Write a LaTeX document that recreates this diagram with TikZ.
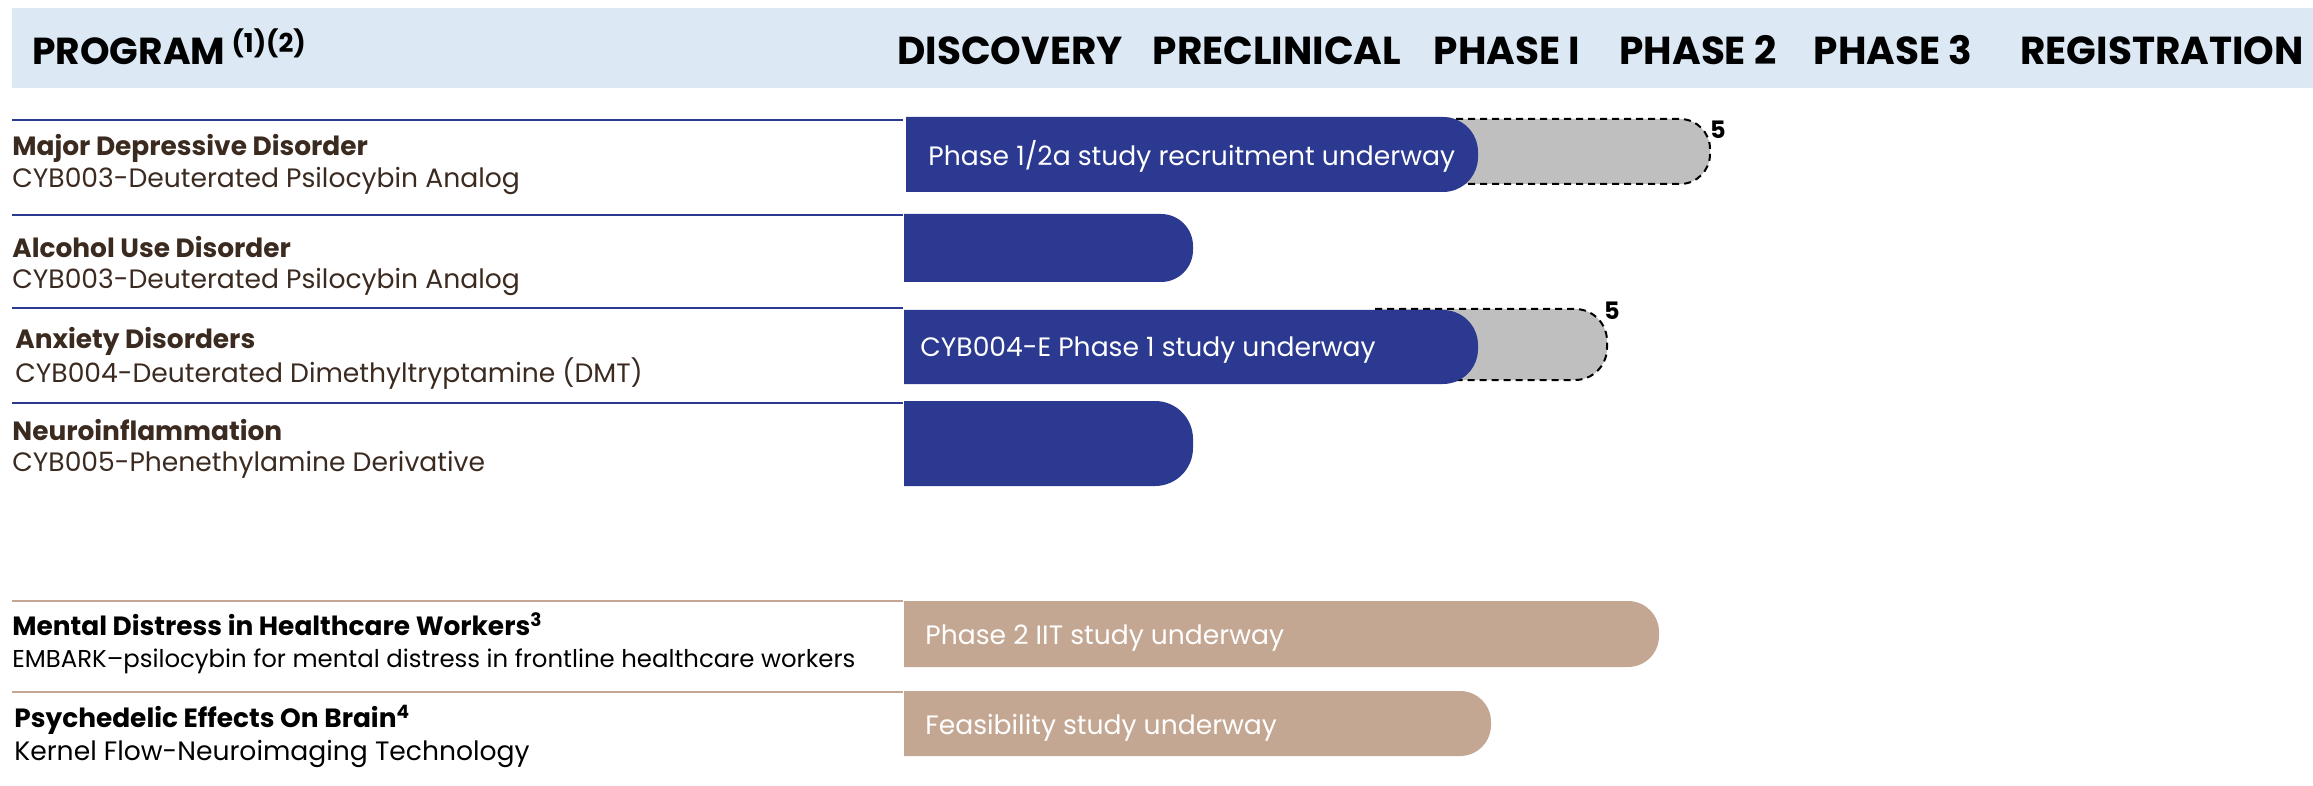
\documentclass[tikz,border=0pt]{standalone}
\usepackage{fontspec}
\setmainfont{Poppins}
\usepackage{xcolor}
\usetikzlibrary{positioning}
\definecolor{bandblue}{HTML}{DCE9F4}
\definecolor{barblue}{HTML}{2B3990}
\definecolor{bargray}{HTML}{BFBFBF}
\definecolor{bartan}{HTML}{C4A792}
\definecolor{titlebrown}{HTML}{3B2A20}

\begin{document}
\begin{tikzpicture}[x=0.5pt, y=-0.5pt,
    colhead/.style={font=\fontsize{19.5}{20}\selectfont\bfseries, anchor=base, inner sep=0pt},
    ptitle/.style={font=\fontsize{13.2}{15}\selectfont\bfseries, anchor=base west, inner sep=0pt},
    psub/.style={font=\fontsize{13.3}{15}\selectfont, anchor=base west, inner sep=0pt},
    bartext/.style={font=\fontsize{13.3}{15}\selectfont, text=white, anchor=base west, inner sep=0pt},
    stub/.style={fill=bargray, draw=black, line width=1pt, dash pattern=on 3.5pt off 2.5pt},
    footmark/.style={font=\fontsize{12}{12}\selectfont\bfseries, inner sep=0pt}]
    \useasboundingbox (0,0) rectangle (2313,786);

    % Header band with the stage columns
    \fill[bandblue] (12,8) rectangle (2313,88);
    \node[colhead, anchor=base west, font=\fontsize{18.8}{20}\selectfont\bfseries] (program) at (32,65) {PROGRAM\,\raisebox{0.6ex}{\fontsize{13}{13}\selectfont(1)(2)}};
    \node[colhead] (disc)  at (1010,65) {DISCOVERY};
    \node[colhead] (precl) at (1277,65) {PRECLINICAL};
    \node[colhead] (ph1)   at (1507,65) {PHASE I};
    \node[colhead] (ph2)   at (1698,65) {PHASE 2};
    \node[colhead] (ph3)   at (1893,65) {PHASE 3};
    \node[colhead] (reg)   at (2162,65) {REGISTRATION};

    % Row separators
    \draw[barblue, line width=1pt] (12,120) -- (903,120);
    \draw[barblue, line width=1pt] (12,215) -- (903,215);
    \draw[barblue, line width=1pt] (12,308) -- (903,308);
    \draw[barblue, line width=1pt] (12,403) -- (903,403);
    \draw[bartan, line width=1pt] (12,601) -- (903,601);
    \draw[bartan, line width=1pt] (12,692) -- (903,692);

    % Programs
    \node[ptitle, text=titlebrown] (mdd)    at (12,156) {Major Depressive Disorder};
    \node[psub, text=titlebrown]   (mddsub) at (12,188) {CYB003-Deuterated Psilocybin Analog};
    \node[ptitle, text=titlebrown] (aud)    at (12,257) {Alcohol Use Disorder};
    \node[psub, text=titlebrown]   (audsub) at (12,289) {CYB003-Deuterated Psilocybin Analog};
    \node[ptitle, text=titlebrown] (anx)    at (15,349) {Anxiety Disorders};
    \node[psub, text=titlebrown]   (anxsub) at (15,382) {CYB004-Deuterated Dimethyltryptamine (DMT)};
    \node[ptitle, text=titlebrown] (neuro)  at (12,440) {Neuroinflammation};
    \node[psub, text=titlebrown]   (neurosub) at (12,471) {CYB005-Phenethylamine Derivative};
    \node[ptitle] (hcw)    at (12,635) {Mental Distress in Healthcare Workers\textsuperscript{3}};
    \node[psub, font=\fontsize{12.2}{15}\selectfont] (hcwsub) at (12,667) {EMBARK--psilocybin for mental distress in frontline healthcare workers};
    \node[ptitle] (brain)    at (14,727) {Psychedelic Effects On Brain\textsuperscript{4}};
    \node[psub]   (brainsub) at (14,760) {Kernel Flow-Neuroimaging Technology};

    % Planned extensions (dashed)
    \filldraw[stub] (1420,119) [rounded corners=15pt] -- (1710,119) -- (1710,184) [sharp corners] -- (1420,184);
    \filldraw[stub] (1375,309) [rounded corners=16pt] -- (1607,309) -- (1607,380) [sharp corners] -- (1420,380);
    \node[footmark] (mddnote) at (1718,130) {5};
    \node[footmark] (anxnote) at (1612,311) {5};

    % Progress bars
    \fill[barblue] (906,117) [rounded corners=17.5pt] -- (1478,117) -- (1478,192) [sharp corners] -- (906,192) -- cycle;
    \fill[barblue] (904,214) [rounded corners=16pt] -- (1193,214) -- (1193,282) [sharp corners] -- (904,282) -- cycle;
    \fill[barblue] (904,310) [rounded corners=17.5pt] -- (1478,310) -- (1478,384) [sharp corners] -- (904,384) -- cycle;
    \fill[barblue] (904,401) [rounded corners=19pt] -- (1193,401) -- (1193,486) [sharp corners] -- (904,486) -- cycle;
    \fill[bartan] (904,601) [rounded corners=15.5pt] -- (1659,601) -- (1659,667) [sharp corners] -- (904,667) -- cycle;
    \fill[bartan] (904,691) [rounded corners=15.5pt] -- (1491,691) -- (1491,756) [sharp corners] -- (904,756) -- cycle;

    % Bar captions
    \node[bartext] (mddbar) at (928,166) {Phase 1/2a study recruitment underway};
    \node[bartext] (anxbar) at (920,357) {CYB004-E Phase 1 study underway};
    \node[bartext] (hcwbar) at (925,644) {Phase 2 IIT study underway};
    \node[bartext] (brainbar) at (925,734) {Feasibility study underway};
\end{tikzpicture}
\end{document}
